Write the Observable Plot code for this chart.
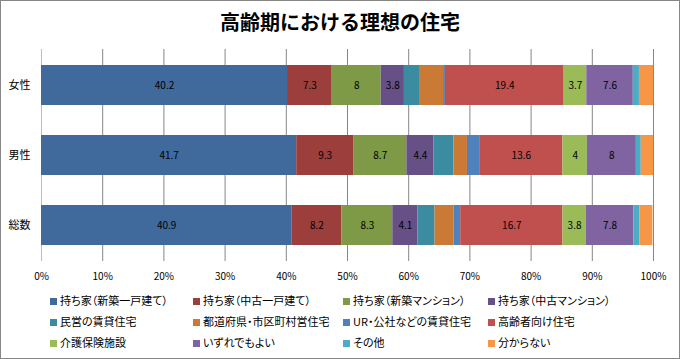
<!DOCTYPE html>
<html>
<head>
<meta charset="utf-8">
<script src="https://cdn.jsdelivr.net/npm/d3@7"></script>
<script src="https://cdn.jsdelivr.net/npm/@observablehq/plot@0.6"></script>
<style>
  html, body { margin: 0; padding: 0; background: #fff; }
  #wrap { position: relative; width: 680px; height: 359px; overflow: hidden; font-family: "Noto Sans CJK JP", sans-serif; }
  #frame { position: absolute; left: 0; top: 0; width: 680px; height: 359px; box-sizing: border-box; border: 1px solid #878787; pointer-events: none; }
  #title { position: absolute; left: 0; top: 0; width: 680px; height: 44px; line-height: 44px; text-align: center; font-size: 20px; font-weight: bold; color: #000; }
  #chart { position: absolute; left: 0; top: 44px; }
  #legend { position: absolute; left: 0; top: 290px; width: 680px; }
  .item { position: absolute; height: 21px; line-height: 21px; font-size: 11px; color: #000; white-space: nowrap; font-feature-settings: "palt"; }
  .sw { display: inline-block; width: 7px; height: 7px; margin-right: 3px; vertical-align: middle; position: relative; top: -1px; }
</style>
</head>
<body>
<div id="wrap">
  <div id="title">高齢期における理想の住宅</div>
  <div id="chart"></div>
  <div id="legend"></div>
  <div id="frame"></div>
</div>
<script>
const categories = ["女性", "男性", "総数"];
const seriesNames = [
  "持ち家（新築一戸建て）", "持ち家（中古一戸建て）", "持ち家（新築マンション）", "持ち家（中古マンション）",
  "民営の賃貸住宅", "都道府県・市区町村営住宅", "UR・公社などの賃貸住宅", "高齢者向け住宅",
  "介護保険施設", "いずれでもよい", "その他", "分からない"
];
const seriesColors = [
  "#40699c", "#9c3f3c", "#7f9a46", "#665086", "#3b8ba1", "#cb7a36",
  "#4f81bd", "#c0504d", "#9bbb59", "#8064a2", "#4bacc6", "#f79646"
];
const female = [40.2, 7.3, 8, 3.8, 2.6, 3.8, 0.3, 19.4, 3.7, 7.6, 1.0, 2.3];
const male   = [41.7, 9.3, 8.7, 4.4, 3.3, 2.2, 2.0, 13.6, 4, 8, 0.8, 2.0];
const total  = [40.9, 8.2, 8.3, 4.1, 2.8, 3.1, 1.1, 16.7, 3.8, 7.8, 1.0, 2.1];
const labeledSeries = [
  "持ち家（新築一戸建て）", "持ち家（中古一戸建て）", "持ち家（新築マンション）", "持ち家（中古マンション）",
  "高齢者向け住宅", "介護保険施設", "いずれでもよい"
];
const xTicks = [0, 10, 20, 30, 40, 50, 60, 70, 80, 90, 100];
const xTickLabels = ["0%", "10%", "20%", "30%", "40%", "50%", "60%", "70%", "80%", "90%", "100%"];

const rowsByCat = [female, male, total];
const table = [];
categories.forEach((cat, ci) => {
  let acc = 0;
  rowsByCat[ci].forEach((v, si) => {
    table.push({cat, series: seriesNames[si], value: v, x1: acc, x2: acc + v});
    acc += v;
  });
});

const chart = Plot.plot({
  width: 680,
  height: 246,
  marginTop: 5,
  marginBottom: 29,
  marginLeft: 41,
  marginRight: 27,
  style: {fontFamily: "'Noto Sans CJK JP', sans-serif", color: "#000", background: "transparent"},
  x: {domain: [0, 100]},
  y: {domain: categories, paddingInner: 0.433, paddingOuter: 0.2165},
  color: {domain: seriesNames, range: seriesColors},
  marks: [
    Plot.gridX(xTicks.slice(1), {stroke: "#868686", strokeOpacity: 1}),
    Plot.ruleX([0], {stroke: "#bdbdbd"}),
    Plot.barX(table, {x1: "x1", x2: "x2", y: "cat", fill: "series"}),
    Plot.text(table.filter(d => labeledSeries.includes(d.series)), {
      x: d => (d.x1 + d.x2) / 2, y: "cat", text: d => String(d.value),
      fontSize: 10, fill: "#000"
    }),
    Plot.axisY({tickSize: 0, tickPadding: 11, fontSize: 11, label: null}),
    Plot.axisX({ticks: xTicks, tickFormat: (d, i) => xTickLabels[i], tickSize: 0, tickPadding: 11, fontSize: 10, label: null})
  ]
});
document.getElementById("chart").appendChild(chart);

const colX = [50, 193, 343, 488];
const legend = document.getElementById("legend");
seriesNames.forEach((name, i) => {
  const el = document.createElement("div");
  el.className = "item";
  el.style.left = colX[i % 4] + "px";
  el.style.top = (Math.floor(i / 4) * 21) + "px";
  const sw = document.createElement("span");
  sw.className = "sw";
  sw.style.background = seriesColors[i];
  el.appendChild(sw);
  el.appendChild(document.createTextNode(name));
  legend.appendChild(el);
});
</script>
</body>
</html>
